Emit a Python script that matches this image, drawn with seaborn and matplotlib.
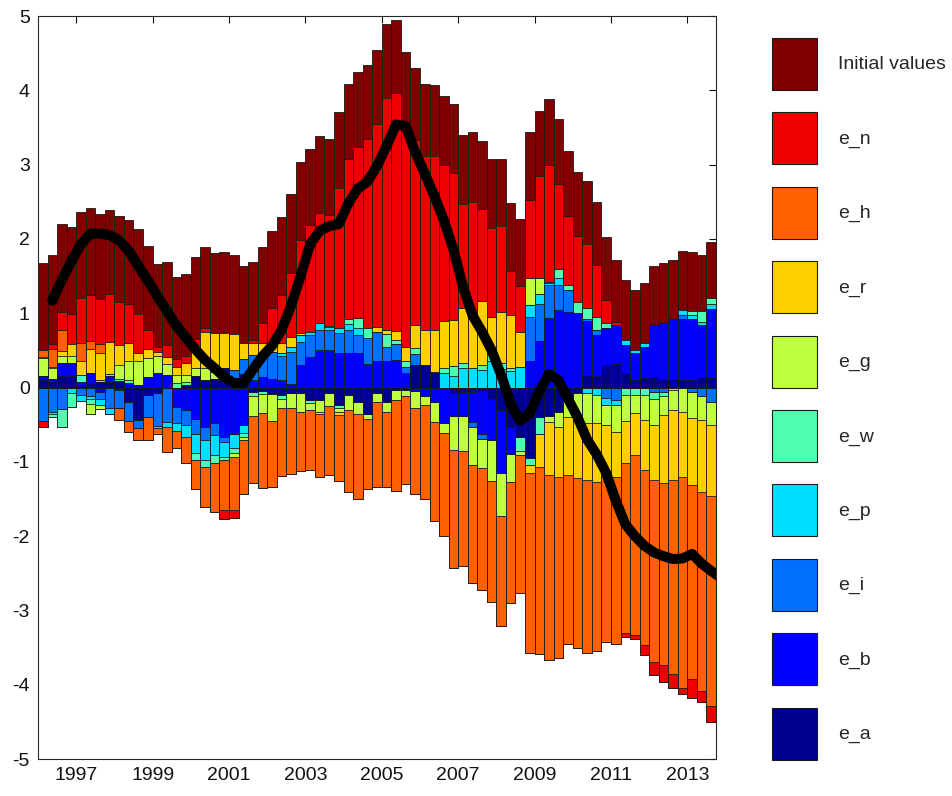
import numpy as np
import matplotlib
matplotlib.use("Agg")
import matplotlib.pyplot as plt
from matplotlib.patches import Patch
import seaborn as sns

# Quarterly sample 1996Q1 - 2013Q3, bar centres in fractional years
n_q = 71
quarter_idx = np.arange(n_q)
t = 1996.0 + 0.125 + 0.25 * quarter_idx

shock_names = ["e_a", "e_b", "e_i", "e_p", "e_w", "e_g", "e_r", "e_h", "e_n", "Initial values"]
shock_colors = [
    (0.0, 0.0, 0.5625),
    (0.0, 0.0, 1.0),
    (0.0, 0.4375, 1.0),
    (0.0, 0.875, 1.0),
    (0.3125, 1.0, 0.6875),
    (0.75, 1.0, 0.25),
    (1.0, 0.8125, 0.0),
    (1.0, 0.375, 0.0),
    (0.9375, 0.0, 0.0),
    (0.5, 0.0, 0.0),
]

# Contribution of each shock, one value per quarter
e_a = [0.10, 0.07, 0.15, 0.15, 0.04, 0.06, 0.08, 0.08, 0.09, -0.20,
       -0.44, -0.10, -0.07, 0.00, 0.00, 0.03, 0.15, 0.10, 0.12, 0.26,
       0.10, 0.18, -0.06, -0.05, -0.09, -0.10, -0.08, -0.08, -0.17, -0.17,
       -0.08, -0.24, -0.10, -0.19, -0.35, -0.08, -0.19, -0.03, -0.03, 0.30,
       0.30, 0.19, 0.00, -0.08, -0.06, -0.06, -0.05, -0.15, -0.30, -0.53,
       -0.66, -0.95, -0.40, -0.38, -0.33, -0.15, -0.08, 0.17, 0.16, 0.30,
       0.32, 0.19, 0.10, 0.13, 0.14, 0.11, 0.12, 0.10, 0.10, 0.14, 0.13]
e_b = [0.05, 0.05, 0.18, 0.18, 0.04, 0.14, -0.06, 0.07, -0.03, 0.06,
       0.03, 0.14, 0.20, 0.17, -0.26, -0.30, -0.43, -0.53, -0.48, -0.66,
       -0.62, -0.50, 0.10, 0.14, 0.12, 0.10, 0.05, 0.30, 0.41, 0.50,
       0.50, 0.46, 0.47, 0.46, 0.32, 0.35, 0.35, 0.37, 0.19, -0.05,
       -0.12, -0.19, -0.48, -0.31, -0.33, -0.40, -0.57, -0.55, -0.85, -0.36,
       0.00, 0.35, 0.62, 0.93, 1.04, 1.02, 1.00, 0.72, 0.55, 0.50,
       0.52, 0.38, 0.37, 0.42, 0.70, 0.76, 0.80, 0.82, 0.82, 0.70, 0.92]
e_i = [-0.45, -0.33, -0.29, 0.00, -0.10, -0.12, -0.10, -0.28, -0.25, -0.25,
       -0.10, -0.30, -0.45, -0.46, -0.22, -0.20, -0.20, -0.18, -0.16, -0.07,
       0.14, 0.20, 0.34, 0.30, 0.36, 0.33, 0.43, 0.31, 0.30, 0.27,
       0.27, 0.27, 0.30, 0.25, 0.34, 0.40, 0.20, 0.22, 0.09, 0.15,
       0.00, 0.00, 0.00, 0.00, 0.00, -0.07, -0.07, 0.00, 0.00, 0.00,
       0.00, 0.60, 0.51, 0.45, 0.34, 0.29, 0.00, 0.03, 0.06, -0.14,
       -0.17, 0.00, 0.00, 0.00, -0.06, -0.06, 0.00, 0.06, -0.06, -0.12, -0.19]
e_p = [0.00, -0.03, 0.00, -0.07, -0.08, -0.04, -0.07, -0.07, 0.00, 0.00,
       0.00, 0.00, -0.03, -0.07, -0.11, -0.16, -0.25, -0.27, -0.27, -0.20,
       -0.20, -0.11, 0.00, 0.00, 0.00, 0.04, 0.07, 0.10, 0.04, 0.10,
       0.04, 0.07, 0.09, 0.09, 0.00, 0.00, 0.00, 0.00, 0.00, 0.00,
       0.00, 0.00, 0.19, 0.15, 0.26, 0.26, 0.24, 0.35, 0.25, 0.22,
       0.28, 0.16, 0.13, 0.02, 0.09, 0.00, 0.00, -0.08, -0.10, -0.09,
       -0.07, 0.07, 0.03, 0.05, 0.00, 0.00, 0.00, 0.06, 0.05, 0.04, 0.08]
e_w = [0.00, -0.04, -0.24, -0.19, 0.09, -0.06, 0.02, 0.03, 0.03, 0.04,
       0.00, 0.00, 0.00, 0.00, 0.06, 0.05, -0.09, -0.09, -0.11, -0.05,
       -0.06, -0.05, -0.05, -0.04, 0.00, -0.05, 0.00, 0.00, -0.04, 0.00,
       0.02, -0.04, 0.06, 0.14, 0.14, 0.00, 0.17, 0.05, 0.07, 0.08,
       0.00, 0.02, 0.07, 0.14, 0.07, 0.00, 0.06, 0.20, 0.08, 0.04,
       -0.20, -0.09, -0.22, 0.02, 0.12, 0.07, 0.15, 0.15, 0.18, 0.07,
       0.00, -0.10, -0.10, -0.10, -0.09, -0.06, -0.03, 0.00, 0.06, 0.15, 0.07]
e_g = [0.25, 0.14, 0.10, 0.09, 0.00, -0.14, -0.06, 0.00, 0.18, 0.25,
       0.32, 0.26, 0.22, 0.14, 0.11, 0.09, 0.11, 0.16, 0.09, 0.00,
       -0.05, -0.04, -0.28, -0.25, -0.36, -0.13, -0.20, -0.25, -0.09, -0.16,
       -0.17, -0.05, -0.20, -0.16, -0.08, -0.11, -0.14, -0.14, -0.09, -0.23,
       -0.11, -0.27, -0.13, -0.45, -0.47, -0.51, -0.40, -0.56, -0.58, -0.38,
       -0.05, 0.36, 0.22, -0.08, -0.20, -0.25, -0.34, -0.40, -0.38, -0.27,
       -0.36, -0.35, -0.24, -0.34, -0.36, -0.25, -0.27, -0.33, -0.35, -0.32, -0.31]
e_r = [0.01, 0.02, 0.06, 0.16, 0.18, 0.32, 0.36, 0.43, 0.27, 0.25,
       0.12, 0.12, 0.06, 0.10, 0.10, 0.16, 0.31, 0.49, 0.52, 0.47,
       0.48, 0.22, 0.16, 0.16, 0.12, 0.13, 0.13, 0.02, 0.00, -0.02,
       0.00, -0.04, 0.00, 0.00, 0.00, 0.07, 0.05, 0.12, 0.20, 0.31,
       0.47, 0.57, 0.63, 0.62, 0.74, 0.76, 0.86, 0.40, 0.68, 0.71,
       0.47, -0.11, -0.45, -0.72, -0.67, -0.78, -0.80, -0.76, -0.79, -0.70,
       -0.60, -0.56, -0.57, -0.67, -0.74, -0.92, -0.94, -0.88, -0.90, -0.96, -0.96]
e_h = [0.09, 0.24, 0.28, 0.00, 0.25, 0.11, 0.12, 0.00, -0.16, -0.15,
       -0.16, -0.30, -0.08, -0.34, -0.23, -0.36, -0.40, -0.54, -0.65, -0.67,
       -0.72, -0.74, -0.90, -1.01, -0.89, -0.91, -0.89, -0.80, -0.81, -0.85,
       -0.93, -0.89, -1.11, -1.15, -0.94, -1.15, -1.01, -1.22, -1.18, -1.16,
       -1.27, -1.34, -1.39, -1.59, -1.54, -1.59, -1.63, -1.63, -1.48, -1.63,
       -1.85, -2.42, -2.52, -2.49, -2.44, -2.27, -2.29, -2.34, -2.27, -2.22,
       -2.25, -2.30, -2.42, -2.36, -2.44, -2.45, -2.62, -2.83, -2.61, -2.68, -2.82]
e_n = [-0.08, 0.07, 0.25, 0.41, 0.60, 0.62, 0.61, 0.65, 0.58, 0.52,
       0.52, 0.25, 0.07, 0.16, 0.12, 0.09, 0.08, 0.05, 0.00, -0.12,
       -0.11, 0.00, 0.04, 0.27, 0.47, 0.65, 0.86, 1.25, 1.44, 1.48,
       1.49, 1.88, 2.15, 2.30, 2.54, 2.72, 3.13, 3.20, 2.98, 2.49,
       2.35, 2.33, 2.11, 1.98, 1.40, 1.48, 1.24, 1.20, 1.16, 0.60,
       0.62, 1.06, 1.36, 1.58, 1.15, 0.93, 0.89, 0.86, 0.70, 0.31,
       0.04, -0.05, -0.05, -0.13, -0.18, -0.23, -0.19, -0.08, -0.26, -0.15, -0.22]
initial_values = [1.17, 1.19, 1.18, 1.17, 1.16, 1.17, 1.14, 1.13, 1.16, 1.13,
                  1.14, 1.13, 1.11, 1.12, 1.10, 1.11, 1.10, 1.09, 1.08, 1.09,
                  1.07, 1.04, 1.05, 1.02, 1.03, 1.04, 1.06, 1.05, 1.02, 1.03,
                  1.03, 1.03, 1.01, 1.01, 1.00, 1.00, 0.99, 0.99, 0.98, 0.97,
                  0.96, 0.96, 0.92, 0.93, 0.93, 0.94, 0.92, 0.92, 0.91, 0.91,
                  0.90, 0.91, 0.88, 0.88, 0.87, 0.87, 0.86, 0.85, 0.85, 0.84,
                  0.84, 0.81, 0.81, 0.81, 0.80, 0.80, 0.79, 0.80, 0.79, 0.76, 0.76]

# Observed series (sum of contributions), drawn one quarter ahead
total = [1.17, 1.45, 1.70, 1.93, 2.07, 2.07, 2.05, 1.98, 1.84, 1.64,
         1.44, 1.23, 1.03, 0.83, 0.67, 0.51, 0.37, 0.26, 0.14, 0.06,
         0.06, 0.24, 0.42, 0.56, 0.77, 1.10, 1.50, 1.93, 2.11, 2.17,
         2.20, 2.48, 2.68, 2.77, 2.98, 3.25, 3.54, 3.52, 3.17, 2.88,
         2.58, 2.25, 1.86, 1.36, 0.97, 0.75, 0.50, 0.17, -0.22, -0.45,
         -0.35, -0.05, 0.18, 0.10, -0.15, -0.40, -0.70, -0.90, -1.15, -1.52,
         -1.84, -2.00, -2.13, -2.22, -2.27, -2.31, -2.30, -2.24, -2.37, -2.47, -2.56]

year_ticks = [1997, 1999, 2001, 2003, 2005, 2007, 2009, 2011, 2013]

sns.set_theme(style="white")
plt.rcParams["font.family"] = ["Liberation Sans", "DejaVu Sans"]
plt.rcParams["axes.unicode_minus"] = False

fig = plt.figure(figsize=(9.52, 7.96), dpi=100)
ax = fig.add_axes([38 / 952, 1 - 759 / 796, (716 - 38) / 952, (759 - 16) / 796])

contrib = np.array([e_a, e_b, e_i, e_p, e_w, e_g, e_r, e_h, e_n, initial_values])
pos_cum = np.clip(contrib, 0, None).cumsum(axis=0)
neg_cum = np.clip(contrib, None, 0).cumsum(axis=0)

# Stack by painting cumulative bars from the outermost layer inwards
for k in range(len(shock_names) - 1, -1, -1):
    for stack in (pos_cum, neg_cum):
        sns.barplot(x=t, y=stack[k], native_scale=True, width=1.0,
                    color=shock_colors[k], saturation=1, errorbar=None,
                    edgecolor="#1a1a1a", linewidth=0.6, ax=ax)

sns.lineplot(x=t + 0.25, y=total, color="black", linewidth=7.2,
             solid_capstyle="round", solid_joinstyle="round",
             sort=False, estimator=None, ax=ax, zorder=5)

ax.set_xlim(1996.0, 2013.75)
ax.set_ylim(-5, 5)
ax.set_xticks(year_ticks)
ax.set_xticklabels([str(y) for y in year_ticks])
ax.set_yticks(np.arange(-5, 6, 1))
ax.set_xlabel("")
ax.set_ylabel("")
ax.tick_params(direction="in", length=5, width=0.8, top=True, right=True,
               labelsize=14, colors="#111111", pad=6)
for sp in ax.spines.values():
    sp.set_visible(True)
    sp.set_color("#262626")
    sp.set_linewidth(0.8)

handles = [Patch(facecolor=shock_colors[k], edgecolor="#1a1a1a", linewidth=0.8)
           for k in range(len(shock_names) - 1, -1, -1)]
labels = [shock_names[k] for k in range(len(shock_names) - 1, -1, -1)]
fig.legend(handles, labels, loc="upper left",
           bbox_to_anchor=(772 / 952, 1 - 38 / 796), frameon=False,
           fontsize=14, handlelength=2.32, handleheight=3.74,
           labelspacing=1.15, handletextpad=1.08, borderpad=0,
           borderaxespad=0)

fig.savefig("out.png", dpi=100, facecolor="white")
